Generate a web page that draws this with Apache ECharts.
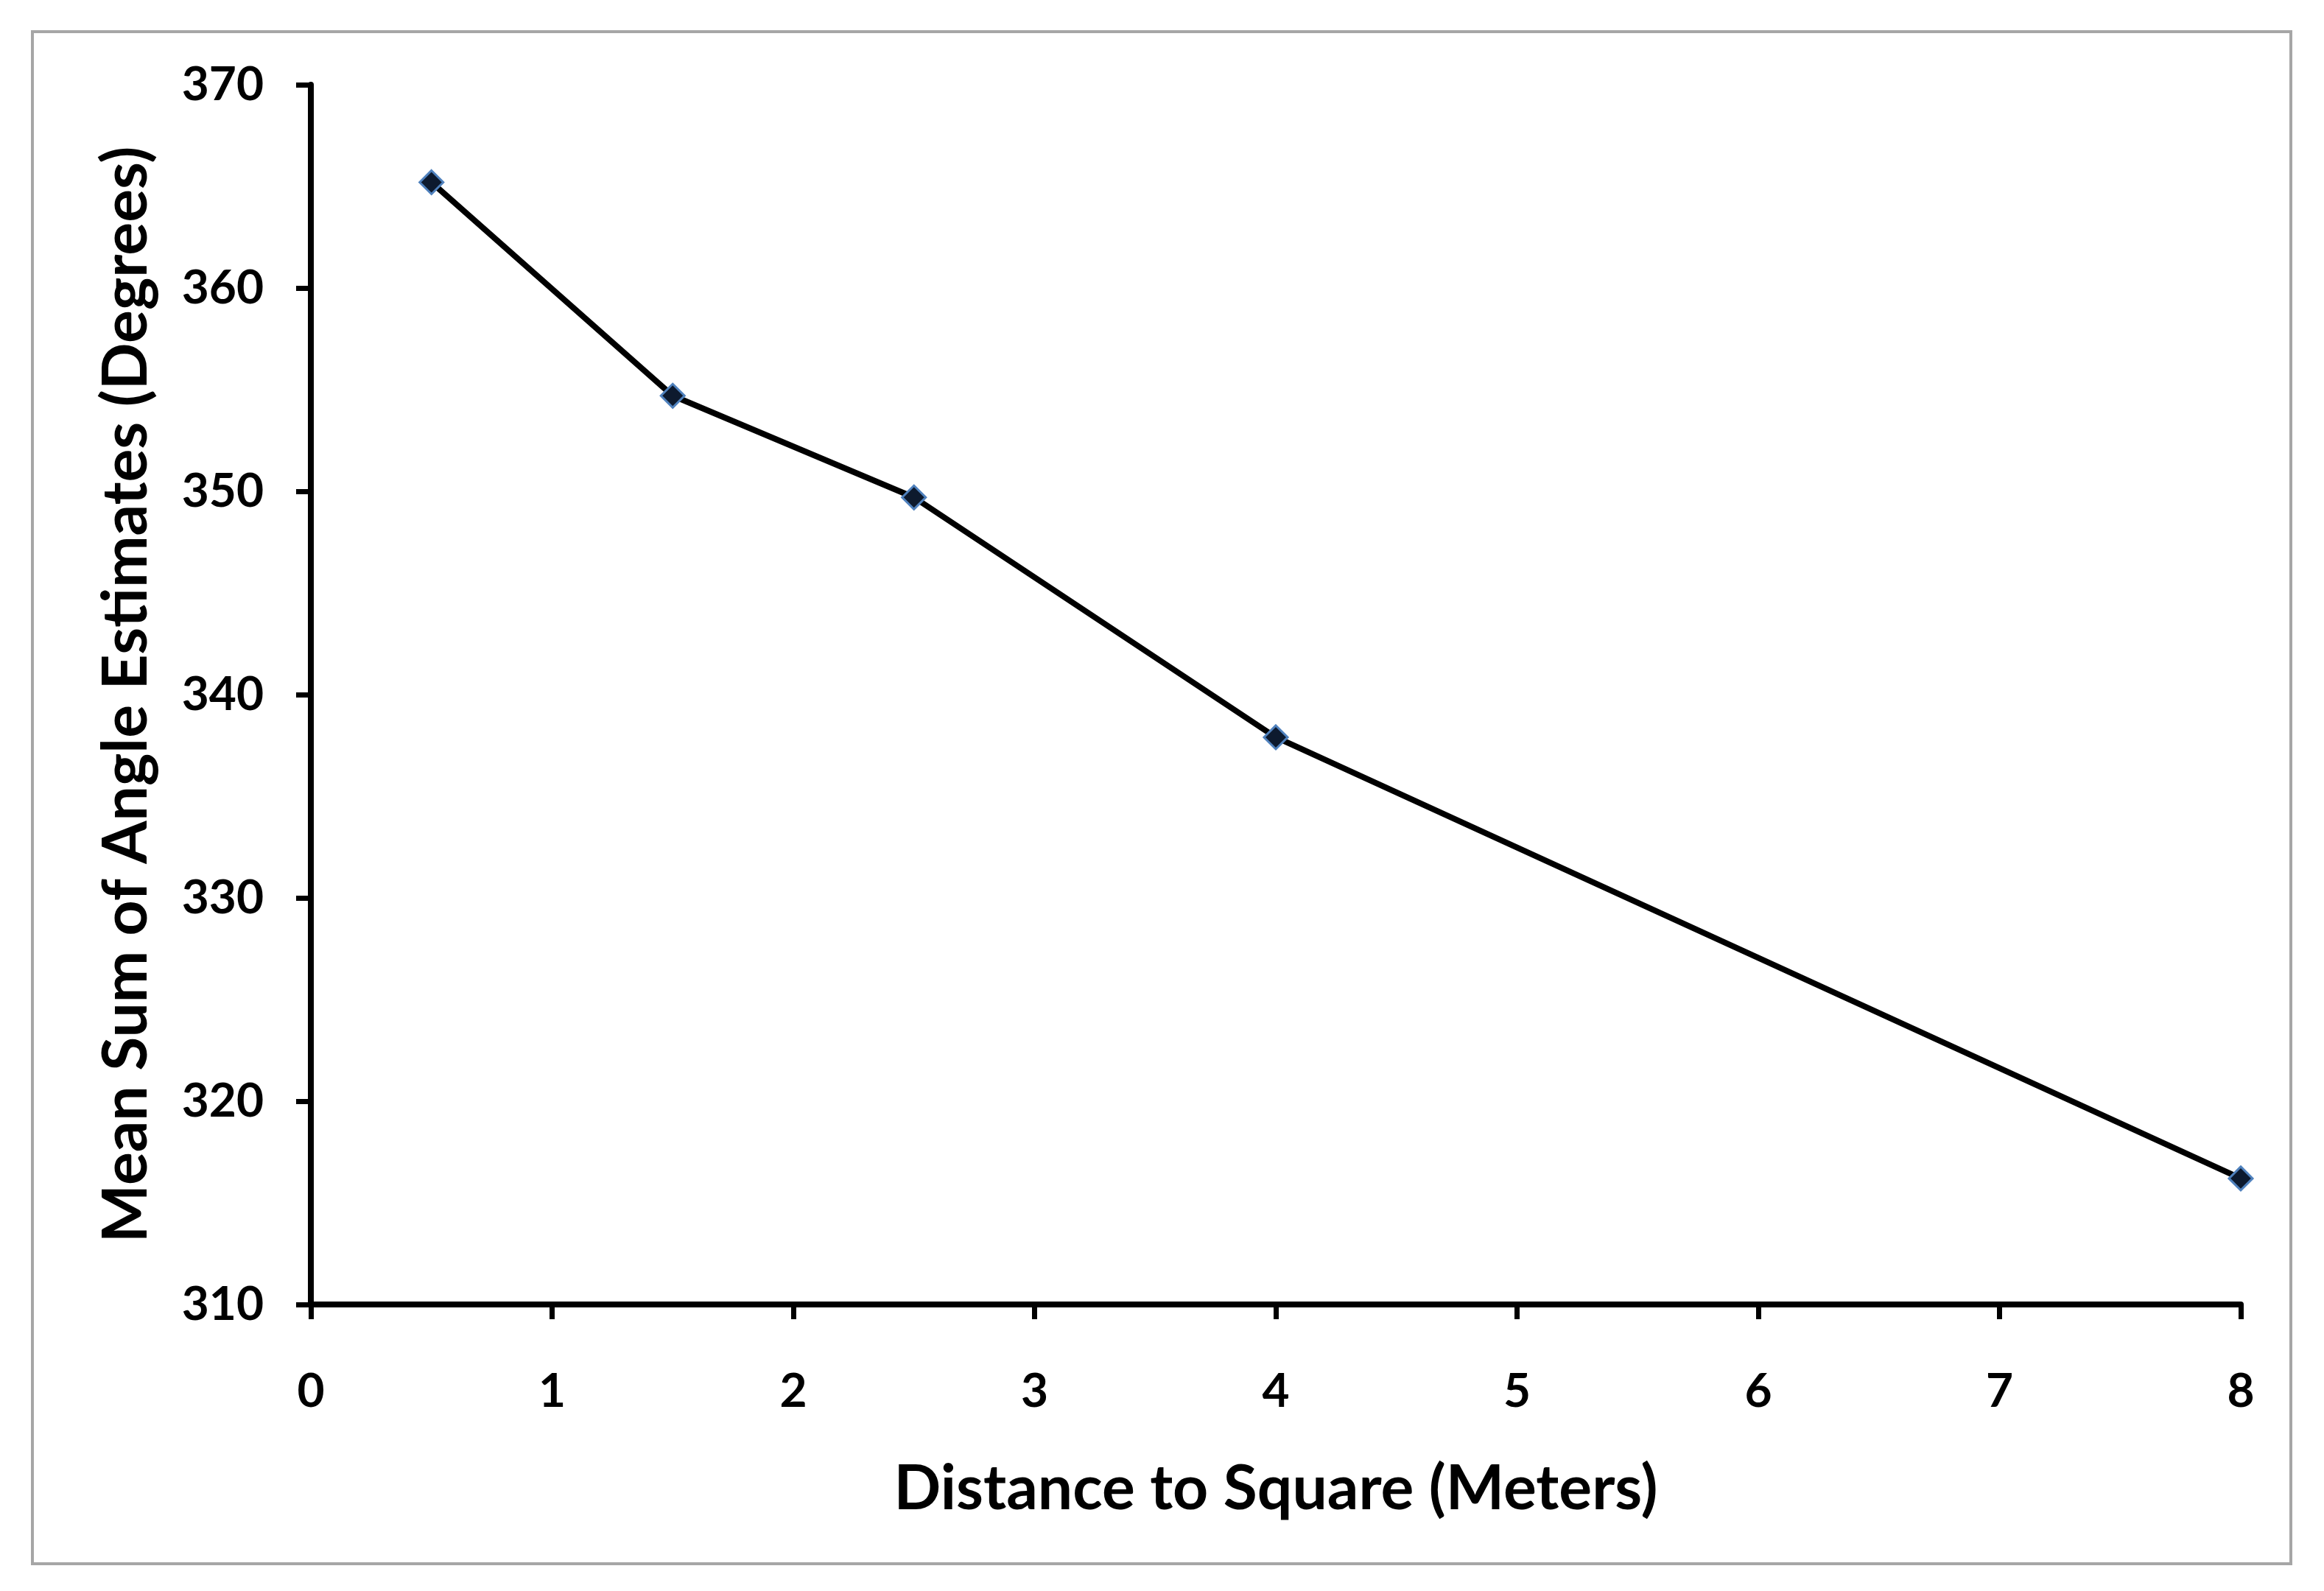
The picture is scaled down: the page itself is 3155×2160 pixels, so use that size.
<!DOCTYPE html>
<html>
<head>
    <meta charset="utf-8">
    <script src="https://cdn.jsdelivr.net/npm/echarts@6/dist/echarts.min.js"></script>
    <style>
        html, body { margin: 0; padding: 0; background: #fff; }
    </style>
</head>
<body>
    <div id="main" style="width: 3155px;height:2160px;"></div>
	<script type="text/javascript">
        // distance (m) and mean angle sum (deg)
        var distances = [0.5, 1.5, 2.5, 4, 8];
        var angleSums = [365.2, 354.7, 349.7, 337.9, 316.2];
        var xTitle = 'Distance to Square (Meters)';
        var yTitle = 'Mean Sum of Angle Estimates (Degrees)';

        var font = 'Lato, "Open Sans", sans-serif';
        var points = distances.map(function (d, i) { return [d, angleSums[i]]; });

        var myChart = echarts.init(document.getElementById('main'));
		myChart.setOption({
			animation: false,
			backgroundColor: '#fff',
			grid: { left: 422, right: 113, top: 115, bottom: 389 },
			graphic: [{
				type: 'rect',
				shape: { x: 44, y: 43, width: 3066, height: 2080 },
				style: { fill: 'none', stroke: '#a6a6a6', lineWidth: 4 },
				z: -1
			}],
			xAxis: {
				type: 'value',
				min: 0, max: 8, interval: 1,
				name: xTitle,
				nameLocation: 'middle',
				nameGap: 209,
				nameTextStyle: { fontFamily: font, fontWeight: 'bold', fontSize: 84, color: '#000' },
				axisLine: { lineStyle: { color: '#000', width: 8 } },
				axisTick: { show: true, length: 20, lineStyle: { color: '#000', width: 7 } },
				axisLabel: { margin: 86, fontFamily: font, fontWeight: 'bold', fontSize: 64, color: '#000' },
				splitLine: { show: false }
			},
			yAxis: {
				type: 'value',
				min: 310, max: 370, interval: 10,
				name: yTitle,
				nameLocation: 'middle',
				nameRotate: 90,
				nameGap: 208,
				nameTextStyle: { fontFamily: font, fontWeight: 'bold', fontSize: 84, color: '#000' },
				axisLine: { show: true, lineStyle: { color: '#000', width: 8 } },
				axisTick: { show: true, length: 20, lineStyle: { color: '#000', width: 7 } },
				axisLabel: { margin: 64, fontFamily: font, fontWeight: 'bold', fontSize: 64, color: '#000' },
				splitLine: { show: false }
			},
			series: [{
				type: 'line',
				data: points,
				symbol: 'diamond',
				symbolSize: 32,
				lineStyle: { color: '#000', width: 8 },
				itemStyle: { color: '#0d1a2e', borderColor: '#4f81bd', borderWidth: 3 }
			}]
		});
    </script>
</body>
</html>
